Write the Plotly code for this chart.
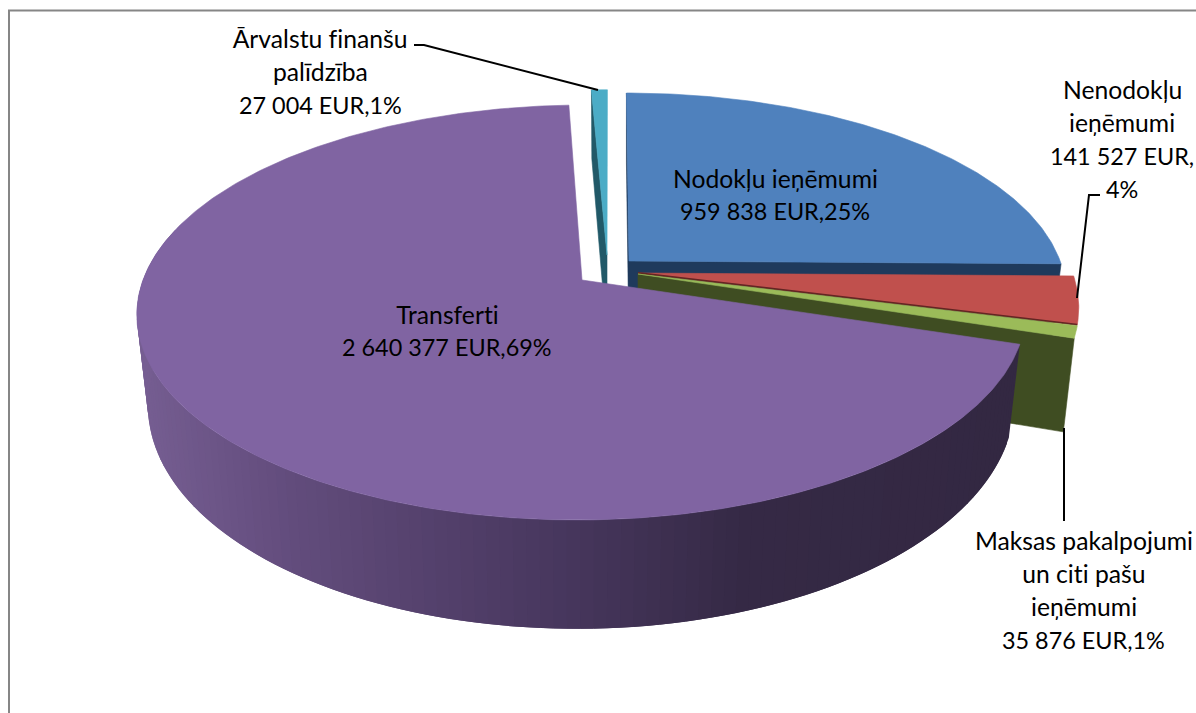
import math
import plotly.graph_objects as go

categories = ["Nodokļu ieņēmumi", "Nenodokļu ieņēmumi", "Maksas pakalpojumi un citi pašu ieņēmumi", "Transferti", "Ārvalstu finanšu palīdzība"]
values = [959838, 141527, 35876, 2640377, 27004]
label_lines = [["Nodokļu ieņēmumi"], ["Nenodokļu", "ieņēmumi"], ["Maksas pakalpojumi", "un citi pašu", "ieņēmumi"], ["Transferti"], ["Ārvalstu finanšu", "palīdzība"]]
top_colors = ["#4F81BD", "#C0504D", "#9BBB59", "#8064A2", "#4BACC6"]
face_colors = ["#1F3A5C", "#632523", "#3F4D22", "#3F3151", "#215968"]

W, H = 1196, 713
VP = 610.0; K = 0.1566; R_T = 439.0; B_T = 202.4; R_B = 428.0; B_B = 220.0; DEPTH = 88.0
# per slice placement: centre x, centre y, x scale, y scale
place = [(629, 261, 0.982, 0.96), (638, 273, 0.99, 1.0), (638, 274, 0.99, 1.0), (582, 280, 1.0, 1.0), (607, 255, 0.944, 0.944)]

total = sum(values)
edges = [0.0]
for v in values:
    edges.append(edges[-1] + v / total * 360.0)


def proj(deg, p, bottom=False, at_centre=False):
    cx, cy, sx, sy = p
    t = math.radians(deg)
    x, y = (0.0, 0.0) if at_centre else (math.sin(t), math.cos(t))
    w = 1 + K * y
    r, b, d = (R_B, B_B, DEPTH) if bottom else (R_T, B_T, 0.0)
    return VP + (cx - VP + r * sx * x) / w, cy + d * sy - b * sy * y / w


def arc(a0, a1, p, bottom=False, n=None):
    n = n or max(2, int(abs(a1 - a0) * 1.5))
    return [proj(a0 + (a1 - a0) * i / n, p, bottom) for i in range(n + 1)]


fig = go.Figure()


def poly(pts, color, stroke=0.6):
    fig.add_trace(go.Scatter(x=[q[0] for q in pts] + [pts[0][0]], y=[q[1] for q in pts] + [pts[0][1]],
                             mode="lines", fill="toself", fillcolor=color,
                             line=dict(color=color, width=stroke), hoverinfo="skip", showlegend=False))


def top(i):
    p = place[i]
    poly([proj(0, p, at_centre=True)] + arc(edges[i], edges[i + 1], p), top_colors[i])


def cut(i, deg):
    p = place[i]
    poly([proj(deg, p), proj(0, p, at_centre=True), proj(0, p, True, True), proj(deg, p, True)], face_colors[i])


def lerp_color(x):
    stops = [(140, (118, 94, 146)), (300, (98, 76, 124)), (580, (70, 54, 92)), (750, (53, 41, 69)), (1020, (51, 40, 66))]
    for (x0, c0), (x1, c1) in zip(stops, stops[1:]):
        if x <= x1:
            f = max(0.0, (x - x0) / (x1 - x0))
            return "rgb(%d,%d,%d)" % tuple(round(a + (b - a) * f) for a, b in zip(c0, c1))
    return "rgb(51,40,66)"


# Border
fig.add_trace(go.Scatter(x=[9, 9, W], y=[H, 10.5, 10.5], mode="lines", line=dict(color="#868686", width=2), hoverinfo="skip", showlegend=False))

# Foreign aid slice
cut(4, edges[4])
top(4)
# Tax slice
cut(0, edges[0])
cut(0, edges[1])
top(0)
# Non-tax slice
top(1)
p1 = place[1]
a, b = proj(0, p1, at_centre=True), proj(edges[2], p1)
fig.add_trace(go.Scatter(x=[a[0], b[0]], y=[a[1], b[1]], mode="lines", line=dict(color=face_colors[1], width=2), hoverinfo="skip", showlegend=False))
# Fees slice
cut(2, edges[3])
top(2)
# Transfers slice: outer wall (painted from the far right, each band overlapping the next) then top
p3 = place[3]
step = 1.5
deg = edges[3]
while deg < 285:
    nxt = min(deg + step, 285)
    ext = min(nxt + step, 285)
    pts_top = arc(deg, ext, p3, n=4)
    pts_bot = arc(deg, ext, p3, True, n=4)
    x_mid = (proj(deg, p3)[0] + proj(deg, p3, True)[0]) / 2
    poly(pts_top + pts_bot[::-1], lerp_color(x_mid), stroke=0)
    deg = nxt
top(3)

# Leader lines
leaders = [([414, 424, 598], [45, 45, 90]), ([1077, 1089, 1100], [298, 195, 195]), ([1064, 1064], [428, 521])]
for lx, ly in leaders:
    fig.add_trace(go.Scatter(x=lx, y=ly, mode="lines", line=dict(color="#000000", width=2), hoverinfo="skip", showlegend=False))

# Labels
anchor = [(775, 178), (1122, 89), (1083.5, 540), (447, 314), (320, 38)]
LINE = 33.4
for i, v in enumerate(values):
    pct = round(v / total * 100)
    num = f"{v:,}".replace(",", " ")
    if i == 1:
        lines = label_lines[i] + [f"{num} EUR,", f"{pct}%"]
    else:
        lines = label_lines[i] + [f"{num} EUR,{pct}%"]
    for j, line in enumerate(lines):
        size = 23.4 if any(ch.isdigit() for ch in line) else 24.7
        fig.add_annotation(x=anchor[i][0], y=anchor[i][1] + j * LINE, text=line, showarrow=False,
                           xanchor="center", yanchor="middle", font=dict(family="Lato", size=size, color="#000000"))

fig.update_layout(width=W, height=H, margin=dict(l=0, r=0, t=0, b=0), paper_bgcolor="#FFFFFF", plot_bgcolor="#FFFFFF",
                  showlegend=False,
                  xaxis=dict(range=[0, W], visible=False, fixedrange=True),
                  yaxis=dict(range=[H, 0], visible=False, fixedrange=True))
post = ("document.body.style.margin='0';"
        "var s=document.createElement('style');"
        "s.textContent='svg text{font-variant-ligatures:none !important;font-feature-settings:\"liga\" 0,\"clig\" 0,\"dlig\" 0 !important;letter-spacing:0.01px;}';"
        "document.head.appendChild(s);")
fig.write_html("out.html", post_script=post, config={"displayModeBar": False})
